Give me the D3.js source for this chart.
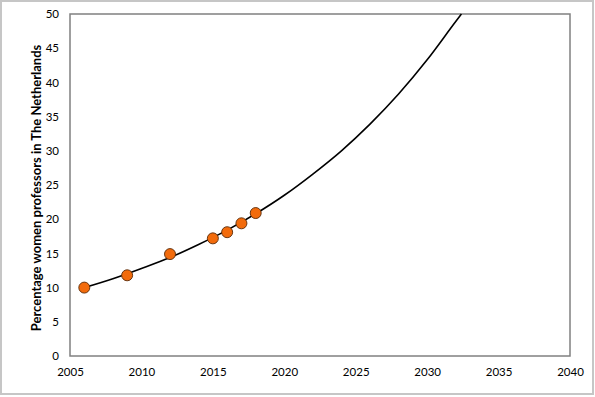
<!DOCTYPE html>
<html>
<head>
<meta charset="utf-8">
<script src="https://cdn.jsdelivr.net/npm/d3@7"></script>
<style>
  body { margin: 0; background: #fff; }
  text { font-family: Lato, "Liberation Sans", sans-serif; fill: #000; }
</style>
</head>
<body>
<div id="chart"></div>
<script>
// Measured points
var years = [2006, 2009, 2012, 2015, 2016, 2017, 2018]
var percentages = [10.0, 11.8, 14.9, 17.2, 18.1, 19.4, 20.9]

// Exponential trend line
var trendYears = [2006, 2008, 2010, 2012, 2014, 2016, 2018, 2020, 2022, 2024, 2026, 2028, 2030, 2032, 2032.4]
var trendValues = [10.0, 11.3, 12.8, 14.4, 16.3, 18.4, 20.8, 23.5, 26.6, 30.0, 33.9, 38.3, 43.3, 48.9, 50.0]

var xTicks = [2005, 2010, 2015, 2020, 2025, 2030, 2035, 2040]
var yTicks = [0, 5, 10, 15, 20, 25, 30, 35, 40, 45, 50]

var svgWidth = 595
var svgHeight = 397

var margin = { top: 14, right: 25, bottom: 41, left: 70 }
var width = svgWidth - margin.left - margin.right
var height = svgHeight - margin.top - margin.bottom

var svg = d3.select("#chart")
  .append("svg")
  .attr("width", svgWidth)
  .attr("height", svgHeight)

// Outer chart border
svg.append("rect")
  .attr("x", 1)
  .attr("y", 1)
  .attr("width", svgWidth - 3)
  .attr("height", svgHeight - 4)
  .attr("fill", "none")
  .attr("stroke", "#c6c6c6")
  .attr("stroke-width", 2)

var chartGroup = svg.append("g")
  .attr("transform", `translate(${margin.left}, ${margin.top})`)

var xScale = d3.scaleLinear().domain([2005, 2040]).range([0, width])
var yScale = d3.scaleLinear().domain([0, 50]).range([height, 0])

// Plot area frame
chartGroup.append("rect")
  .attr("x", 0)
  .attr("y", 0)
  .attr("width", width)
  .attr("height", height)
  .attr("fill", "none")
  .attr("stroke", "#808080")
  .attr("stroke-width", 1.5)

var bottomAxis = d3.axisBottom(xScale).tickValues(xTicks).tickSize(0).tickPadding(12).tickFormat(d3.format("d"))
var leftAxis = d3.axisLeft(yScale).tickValues(yTicks).tickSize(0).tickPadding(11)

var xAxis = chartGroup.append("g")
  .attr("transform", `translate(0, ${height})`)
  .call(bottomAxis)
xAxis.select(".domain").remove()
xAxis.selectAll("text").attr("font-size", 11.5).style("font-family", "Lato, 'Liberation Sans', sans-serif")

var yAxis = chartGroup.append("g").call(leftAxis)
yAxis.select(".domain").remove()
yAxis.selectAll("text").attr("font-size", 11.5).style("font-family", "Lato, 'Liberation Sans', sans-serif")

// Trend line
var trendData = trendYears.map((t, i) => ({ year: t, value: trendValues[i] }))
var line = d3.line()
  .x(d => xScale(d.year))
  .y(d => yScale(d.value))
  .curve(d3.curveMonotoneX)

chartGroup.append("path")
  .datum(trendData)
  .attr("d", line)
  .attr("fill", "none")
  .attr("stroke", "#000")
  .attr("stroke-width", 1.6)

// Points
var pointData = years.map((t, i) => ({ year: t, value: percentages[i] }))
chartGroup.selectAll("circle.point")
  .data(pointData)
  .enter()
  .append("circle")
  .attr("class", "point")
  .attr("cx", d => xScale(d.year))
  .attr("cy", d => yScale(d.value))
  .attr("r", 5.5)
  .attr("fill", "#f26b0c")
  .attr("stroke", "#5a2a08")
  .attr("stroke-width", 0.9)

// Y axis label
svg.append("text")
  .attr("transform", `translate(41, ${margin.top + height / 2 + 3}) rotate(-90)`)
  .attr("text-anchor", "middle")
  .attr("font-size", 13)
  .attr("font-weight", "bold")
  .text("Percentage women professors in The Netherlands")
</script>
</body>
</html>
